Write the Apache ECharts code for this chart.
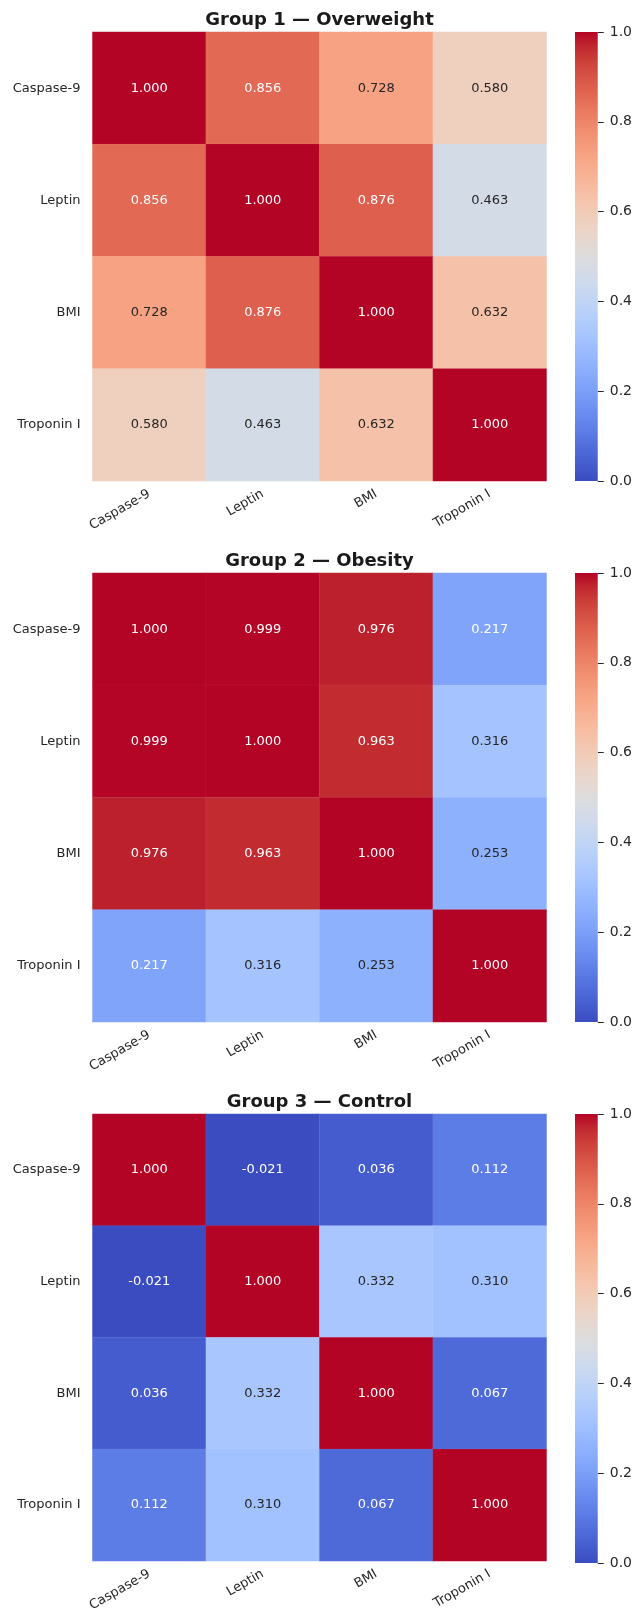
<!DOCTYPE html>
<html>
<head>
<meta charset="utf-8">
<script src="https://cdn.jsdelivr.net/npm/echarts@6/dist/echarts.min.js"></script>
<style>
  html, body { margin: 0; padding: 0; background: #ffffff; }
  #chart { width: 635px; height: 1614px; }
</style>
</head>
<body>
<div id="chart"></div>
<script>
// Variables shown on both axes of every correlation matrix
const variables = ['Caspase-9', 'Leptin', 'BMI', 'Troponin I'];

// Panel titles
const groupTitles = ['Group 1 \u2014 Overweight', 'Group 2 \u2014 Obesity', 'Group 3 \u2014 Control'];

// Pearson correlation matrices (row = y variable, column = x variable)
const overweightCorr = [
  [1.000, 0.856, 0.728, 0.580],
  [0.856, 1.000, 0.876, 0.463],
  [0.728, 0.876, 1.000, 0.632],
  [0.580, 0.463, 0.632, 1.000]
];
const obesityCorr = [
  [1.000, 0.999, 0.976, 0.217],
  [0.999, 1.000, 0.963, 0.316],
  [0.976, 0.963, 1.000, 0.253],
  [0.217, 0.316, 0.253, 1.000]
];
const controlCorr = [
  [1.000, -0.021, 0.036, 0.112],
  [-0.021, 1.000, 0.332, 0.310],
  [0.036, 0.332, 1.000, 0.067],
  [0.112, 0.310, 0.067, 1.000]
];

// Colour bar range and ticks
const colorMin = 0.0;
const colorMax = 1.0;
const colorTickStep = 0.2;

const matrices = [overweightCorr, obesityCorr, controlCorr];

// Diverging "coolwarm" colour map sampled at 33 evenly spaced stops
const coolwarm = [
  [59,76,192],[68,90,204],[77,104,215],[87,117,225],[98,130,234],[108,142,241],
  [119,154,247],[130,165,251],[141,176,254],[152,185,255],[163,194,255],[174,201,253],
  [184,208,249],[194,213,244],[204,217,238],[213,219,230],[221,221,221],[229,216,209],
  [236,211,197],[241,204,184],[245,196,172],[247,187,159],[247,177,147],[247,166,134],
  [244,154,123],[241,141,111],[236,127,99],[229,112,89],[222,96,77],[213,80,69],
  [203,62,56],[192,40,47],[180,4,38]
];
const toHex = c => '#' + c.map(v => Math.round(v).toString(16).padStart(2, '0')).join('');
const cmapHex = coolwarm.map(toHex);

function colorAt(v) {
  let t = (v - colorMin) / (colorMax - colorMin);
  t = Math.max(0, Math.min(1, t));
  const pos = t * (coolwarm.length - 1);
  const i = Math.min(Math.floor(pos), coolwarm.length - 2);
  const f = pos - i;
  const a = coolwarm[i], b = coolwarm[i + 1];
  return [0, 1, 2].map(k => a[k] + (b[k] - a[k]) * f);
}
// Dark annotation text on light cells, white text on dark cells
function textColorFor(v) {
  const lin = c => { c /= 255; return c <= 0.03928 ? c / 12.92 : Math.pow((c + 0.055) / 1.055, 2.4); };
  const rgb = colorAt(v);
  const lum = 0.2126 * lin(rgb[0]) + 0.7152 * lin(rgb[1]) + 0.0722 * lin(rgb[2]);
  return lum > 0.408 ? '#262626' : '#ffffff';
}

// Layout
const mapLeft = 92.5, mapWidth = 454, mapHeight = 449;
const panelTops = [32, 573, 1114];
const barLeft = 575, barWidth = 23;
const ink = '#262626';

const grids = [], xAxes = [], yAxes = [], series = [], graphics = [];

matrices.forEach((m, p) => {
  const top = panelTops[p];
  // heatmap grid
  grids.push({ left: mapLeft, top: top, width: mapWidth, height: mapHeight });
  // colour bar grid
  grids.push({ left: barLeft, top: top, width: barWidth, height: mapHeight });

  const gH = p * 2, gC = p * 2 + 1;
  xAxes.push({
    type: 'category', gridIndex: gH, data: variables, position: 'bottom',
    axisLine: { show: false }, axisTick: { show: false }, splitLine: { show: false },
    axisLabel: { rotate: 30, margin: 12, color: ink, fontSize: 13, fontFamily: 'DejaVu Sans', interval: 0 }
  });
  yAxes.push({
    type: 'category', gridIndex: gH, data: variables, inverse: true,
    axisLine: { show: false }, axisTick: { show: false }, splitLine: { show: false },
    axisLabel: { margin: 12, color: ink, fontSize: 13, fontFamily: 'DejaVu Sans', interval: 0 }
  });
  xAxes.push({
    type: 'category', gridIndex: gC, data: ['scale'], show: false,
    boundaryGap: true
  });
  yAxes.push({
    type: 'value', gridIndex: gC, min: colorMin, max: colorMax, interval: colorTickStep,
    position: 'right',
    axisLine: { show: false },
    axisTick: { show: true, length: 6, inside: false, lineStyle: { color: ink, width: 1 } },
    splitLine: { show: false },
    axisLabel: { margin: 12, color: ink, fontSize: 14, fontFamily: 'DejaVu Sans',
                 formatter: v => v.toFixed(1) }
  });

  const cells = [];
  m.forEach((row, r) => {
    row.forEach((v, c) => {
      cells.push({
        value: [c, r, v],
        label: { color: textColorFor(v) }
      });
    });
  });

  series.push({
    type: 'heatmap', xAxisIndex: gH, yAxisIndex: gH,
    data: cells,
    itemStyle: { borderWidth: 0.5, borderColor: 'rgba(255,255,255,0.1)' },
    label: {
      show: true, fontSize: 13, fontFamily: 'DejaVu Sans',
      formatter: prm => prm.value[2].toFixed(3)
    },
    emphasis: { disabled: true }
  });

  // colour bar drawn as one full-height bar filled with the colour map
  const stops = cmapHex.map((col, i) => ({ offset: 1 - i / (cmapHex.length - 1), color: col }));
  series.push({
    type: 'bar', xAxisIndex: gC, yAxisIndex: gC,
    data: [colorMax], barWidth: '100%', silent: true,
    itemStyle: { color: { type: 'linear', x: 0, y: 0, x2: 0, y2: 1, colorStops: stops.slice().reverse() } }
  });

  graphics.push({
    type: 'text', x: mapLeft + mapWidth / 2, y: top - 12,
    style: {
      text: groupTitles[p], align: 'center', verticalAlign: 'middle',
      fontSize: 18, fontWeight: 'bold', fontFamily: 'DejaVu Sans', fill: '#1a1a1a'
    }
  });
});

const chart = echarts.init(document.getElementById('chart'), null, { renderer: 'canvas' });
chart.setOption({
  backgroundColor: '#ffffff',
  animation: false,
  grid: grids,
  xAxis: xAxes,
  yAxis: yAxes,
  visualMap: {
    show: false, type: 'continuous', min: colorMin, max: colorMax,
    dimension: 2, seriesIndex: [0, 2, 4],
    inRange: { color: cmapHex }
  },
  series: series,
  graphic: graphics
});
</script>
</body>
</html>
